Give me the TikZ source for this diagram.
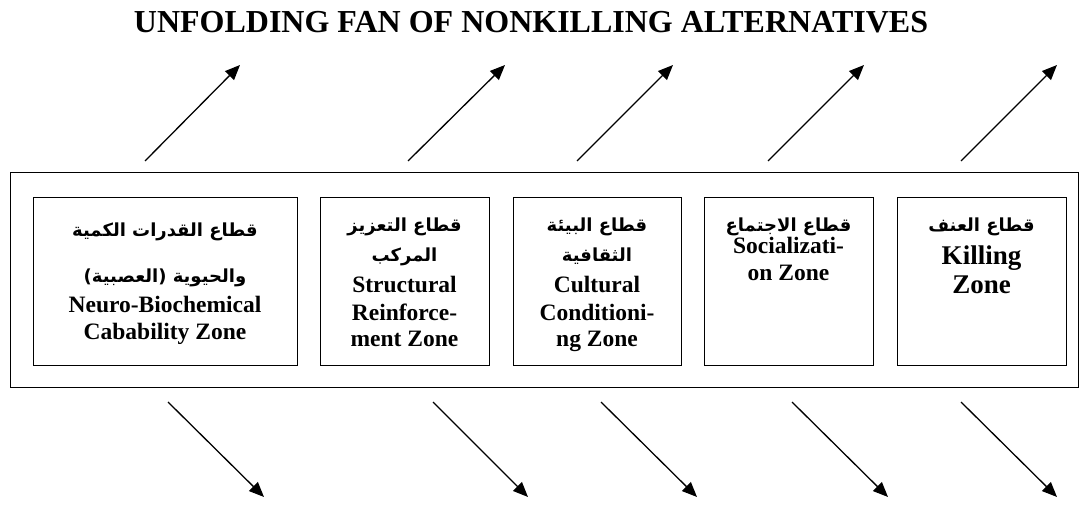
\documentclass[tikz,border=0pt]{standalone}
\usepackage{fontspec}
\setmainfont{Liberation Serif}
\newfontfamily\arabicfont[Script=Arabic]{DejaVu Sans}
\TeXXeTstate=1
\usetikzlibrary{arrows.meta}
\newcommand{\ar}[1]{{\arabicfont\bfseries\beginR #1\endR}}
\begin{document}
\begin{tikzpicture}[x=1pt,y=-1pt,
  zone/.style={draw,line width=1.4pt,anchor=north west,inner sep=0pt},
  entext/.style={anchor=base,inner sep=0pt,font=\bfseries\fontsize{23.5}{27}\selectfont},
  bigen/.style={anchor=base,inner sep=0pt,font=\bfseries\fontsize{27}{30}\selectfont},
  artext/.style={anchor=base,inner sep=0pt,font=\fontsize{18}{22}\selectfont},
  fan/.style={line width=1.3pt,-{Triangle[length=15pt,width=12.5pt]}}]
\useasboundingbox (0,0) rectangle (1088,505);
% title
\node[anchor=base,inner sep=0pt,font=\bfseries\fontsize{32}{36}\selectfont] (title) at (531,33) {UNFOLDING FAN OF NONKILLING ALTERNATIVES};
% outer frame
\node[zone,minimum width=1068pt,minimum height=215pt] (outer) at (10,172) {};
% zone boxes
\node[zone,minimum width=264pt,minimum height=168pt] (b1) at (33,197) {};
\node[zone,minimum width=169pt,minimum height=168pt] (b2) at (320,197) {};
\node[zone,minimum width=168pt,minimum height=168pt] (b3) at (513,197) {};
\node[zone,minimum width=169pt,minimum height=168pt] (b4) at (704,197) {};
\node[zone,minimum width=169pt,minimum height=168pt] (b5) at (897,197) {};
% box 1 text
\node[artext] (t1a) at (165,237) {\ar{قطاع القدرات الكمية}};
\node[artext] (t1b) at (165,283) {\ar{والحيوية (العصبية)}};
\node[entext] (t1c) at (165,313) {Neuro-Biochemical};
\node[entext] (t1d) at (165,340) {Cabability Zone};
% box 2 text
\node[artext] (t2a) at (404.5,232) {\ar{قطاع التعزيز}};
\node[artext] (t2b) at (404.5,262) {\ar{المركب}};
\node[entext] (t2c) at (404.5,293) {Structural};
\node[entext] (t2d) at (404.5,320) {Reinforce-};
\node[entext] (t2e) at (404.5,347) {ment Zone};
% box 3 text
\node[artext] (t3a) at (597,232) {\ar{قطاع البيئة}};
\node[artext] (t3b) at (597,262) {\ar{الثقافية}};
\node[entext] (t3c) at (597,293) {Cultural};
\node[entext] (t3d) at (597,320) {Conditioni-};
\node[entext] (t3e) at (597,347) {ng Zone};
% box 4 text
\node[artext] (t4a) at (788.5,232) {\ar{قطاع الاجتماع}};
\node[entext] (t4b) at (788.5,254) {Socializati-};
\node[entext] (t4c) at (788.5,281) {on Zone};
% box 5 text
\node[artext] (t5a) at (981.5,232) {\ar{قطاع العنف}};
\node[bigen] (t5b) at (981.5,265) {Killing};
\node[bigen] (t5c) at (981.5,294) {Zone};
% upward arrows
\coordinate (u1s) at (145,161); \coordinate (u1e) at (240,65);
\coordinate (u2s) at (408,161); \coordinate (u2e) at (505,65);
\coordinate (u3s) at (577,161); \coordinate (u3e) at (673,65);
\coordinate (u4s) at (768,161); \coordinate (u4e) at (864,65);
\coordinate (u5s) at (961,161); \coordinate (u5e) at (1057,65);
\foreach \i in {1,...,5} \draw[fan] (u\i s) -- (u\i e);
% downward arrows
\coordinate (d1s) at (168,402); \coordinate (d1e) at (264,497);
\coordinate (d2s) at (433,402); \coordinate (d2e) at (528,497);
\coordinate (d3s) at (601,402); \coordinate (d3e) at (697,497);
\coordinate (d4s) at (792,402); \coordinate (d4e) at (888,497);
\coordinate (d5s) at (961,402); \coordinate (d5e) at (1057,497);
\foreach \i in {1,...,5} \draw[fan] (d\i s) -- (d\i e);
\end{tikzpicture}
\end{document}
